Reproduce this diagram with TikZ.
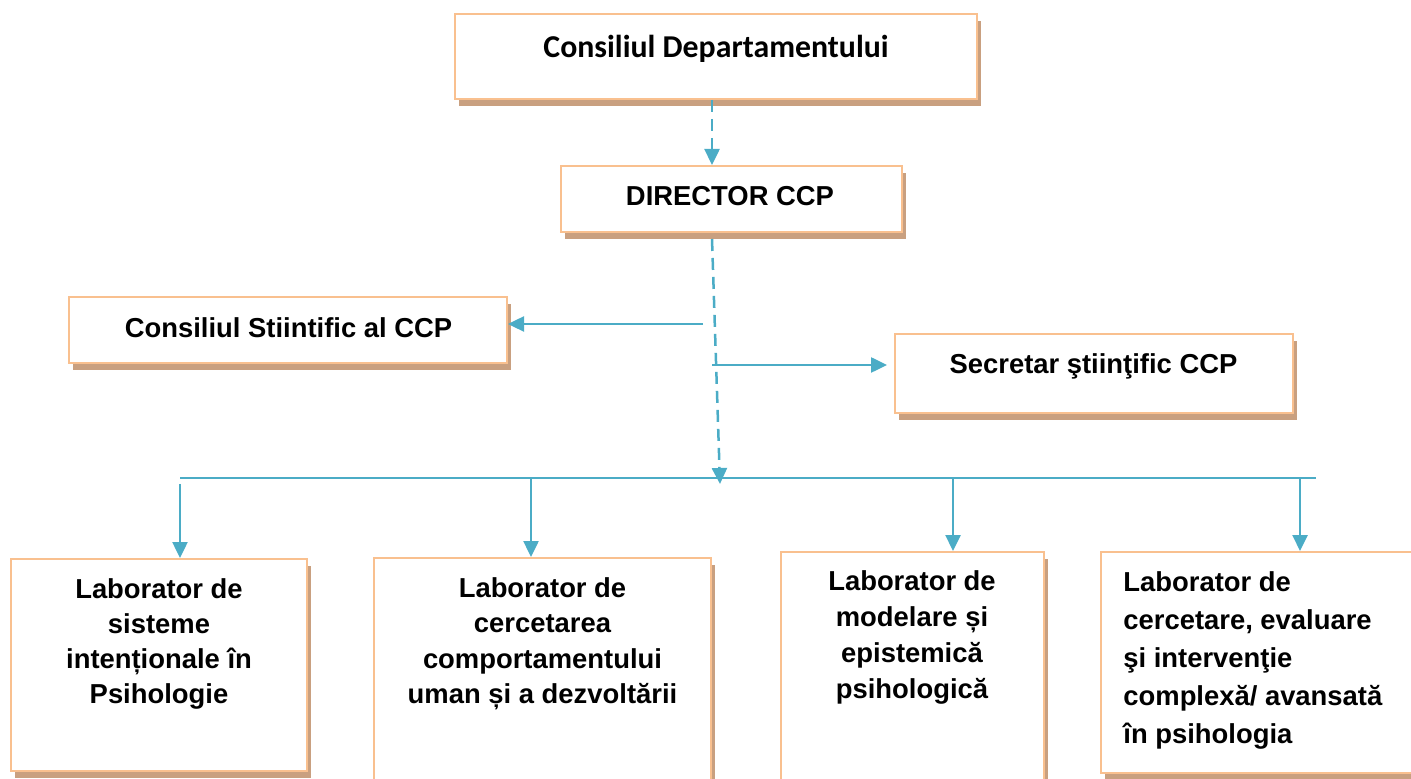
\documentclass[tikz,border=0pt]{standalone}
\usepackage{fontspec}
\setmainfont{Liberation Sans}
\newfontfamily\calfont{Carlito}
\usetikzlibrary{arrows.meta,shadows}
\definecolor{bordc}{HTML}{F9C08F}
\definecolor{shadc}{HTML}{C9A080}
\definecolor{linec}{HTML}{4BACC6}
\begin{document}
\begin{tikzpicture}[x=0.5pt,y=-0.5pt,
  box/.style={draw=bordc, line width=1pt, fill=white, rectangle, inner sep=0pt,
    general shadow={fill=shadc, shadow xshift=2.2pt, shadow yshift=-3.6pt}},
  txt/.style={font=\bfseries\fontsize{13.7pt}{17.5pt}\selectfont, inner sep=0pt, align=center, anchor=north},
  conn/.style={draw=linec, line width=1.25pt},
  arr/.style={conn, -{Triangle[length=8pt,width=7.5pt]}},
  dasharr/.style={arr, dash pattern=on 6pt off 3.5pt}]
\useasboundingbox (0,0) rectangle (1411,779);
\clip (0,0) rectangle (1411,779);
% boxes
\node[box, minimum width=261pt, minimum height=42.5pt] (b1) at (716,56.5) {};
\node[box, minimum width=170.5pt, minimum height=33pt] (dir) at (731.5,199) {};
\node[box, minimum width=219pt, minimum height=33pt] (cs) at (288,330) {};
\node[box, minimum width=199pt, minimum height=39.5pt] (sec) at (1094,373.5) {};
\node[box, minimum width=148pt, minimum height=106pt] (la) at (159,665) {};
\node[box, minimum width=168.5pt, minimum height=126pt] (lb) at (542.5,684) {};
\node[box, minimum width=131.5pt, minimum height=129pt] (lc) at (912.5,681) {};
\node[box, minimum width=169.5pt, minimum height=110.5pt] (ld) at (1270.5,662.5) {};
% texts
\node[txt, font=\calfont\bfseries\fontsize{15.9pt}{19pt}\selectfont] (t1) at (716,35) {Consiliul Departamentului};
\node[txt] (t2) at (730,186) {DIRECTOR CCP};
\node[txt] (t3) at (288.5,317) {Consiliul Stiintific al CCP};
\node[txt] (t4) at (1093.5,353) {Secretar ştiinţific CCP};
\node[txt] (ta) at (159,578) {Laborator de\\sisteme\\intenționale în\\Psihologie};
\node[txt, font=\bfseries\fontsize{13.7pt}{17.7pt}\selectfont] (tb) at (542.5,577) {Laborator de\\cercetarea\\comportamentului\\uman și a dezvoltării};
\node[txt, font=\bfseries\fontsize{13.7pt}{18pt}\selectfont] (tc) at (912,570) {Laborator de\\modelare și\\epistemică\\psihologică};
\node[txt, align=left, anchor=north west, font=\bfseries\fontsize{13.7pt}{19pt}\selectfont] (td) at (1123,571) {Laborator de\\cercetare, evaluare\\şi intervenţie\\complexă/ avansată\\în psihologia};
% coordinates
\coordinate (vx) at (712,0);
\coordinate (hub) at (720,484);
\coordinate (hl) at (180,478);
\coordinate (hr) at (1316,478);
\coordinate (s1) at (703,324);
\coordinate (s2) at (712,365);
\coordinate (da) at (180,484);
\coordinate (db) at (531,478);
\coordinate (dc) at (953,478);
\coordinate (dd) at (1300,478);
% connectors
\draw[dasharr] (b1.south -| vx) -- (dir.north -| vx);
\draw[dasharr] ([yshift=-3pt]dir.south -| vx) -- (hub);
\draw[conn] (hl) -- (hr);
\draw[arr] (s1) -- (cs.east |- s1);
\draw[arr, shorten >=3.5pt] (s2) -- (sec.west |- s2);
\draw[arr] (da) -- (la.north -| da);
\draw[arr] (db) -- (lb.north -| db);
\draw[arr] (dc) -- (lc.north -| dc);
\draw[arr] (dd) -- (ld.north -| dd);
\end{tikzpicture}
\end{document}
